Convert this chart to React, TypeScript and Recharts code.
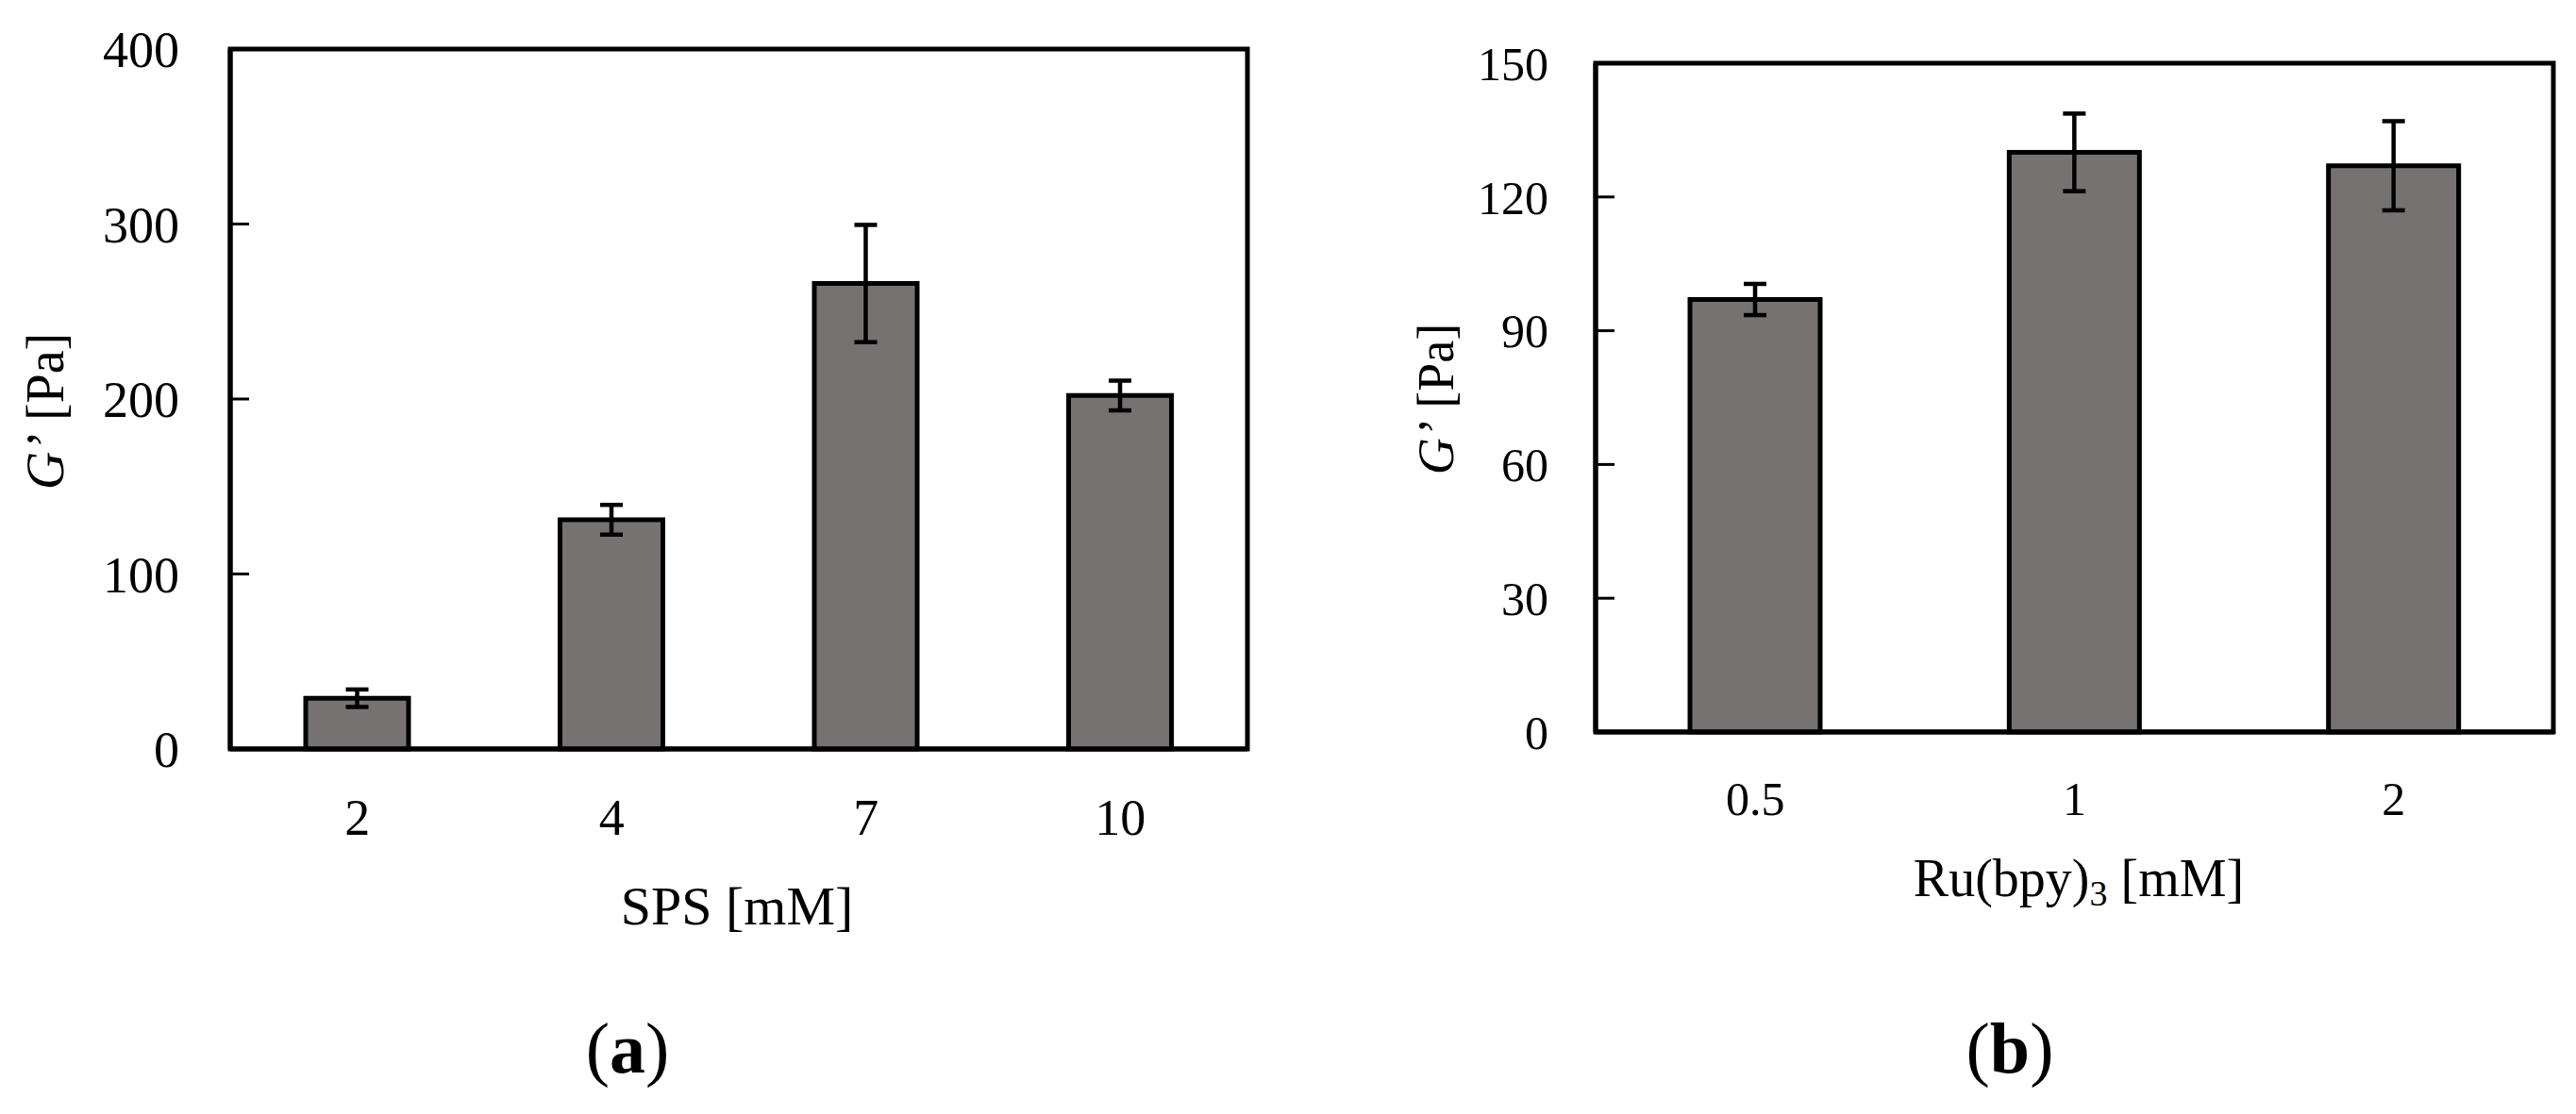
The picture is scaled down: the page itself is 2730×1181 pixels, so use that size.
import { BarChart, Bar, XAxis, YAxis, ErrorBar, ReferenceArea } from 'recharts'

// Panel (a): storage modulus vs SPS concentration
const SPS_LEVELS = ['2', '4', '7', '10']
const SPS_MODULUS = [29, 131, 266, 202]
const SPS_ERROR = [5, 8.5, 33.5, 8.5]
const SPS_TICKS = [0, 100, 200, 300, 400]

// Panel (b): storage modulus vs Ru(bpy)3 concentration
const RU_LEVELS = ['0.5', '1', '2']
const RU_MODULUS = [97, 130, 127]
const RU_ERROR = [3.5, 8.7, 10]
const RU_TICKS = [0, 30, 60, 90, 120, 150]

const FONT = '"Liberation Serif", "Times New Roman", serif'
const BAR_FILL = '#777272'
const INK = '#000000'
const LINE = 5
const INNER_TICK = 20

type PanelProps = {
  levels: string[]
  values: number[]
  errors: number[]
  ticks: number[]
  left: number
  top: number
  right: number
  axisWidth: number
  axisHeight: number
  barSize: number
  tickFont: number
  tickGapY: number
  tickGapX: number
  labelFont: number
  xLabel: React.ReactNode
  xLabelX: number
  xLabelY: number
  yLabelX: number
  yLabelY: number
  yLabelFont: number
}

function Panel(p: PanelProps) {
  const data = p.levels.map((level, i) => ({ level, value: p.values[i], err: p.errors[i] }))
  const domain: [number, number] = [p.ticks[0], p.ticks[p.ticks.length - 1]]
  const axisLine = { stroke: INK, strokeWidth: LINE }

  // value label plus a short tick pointing into the plot (Excel "inside" ticks)
  const renderYTick = (t: any) => {
    const axisX = Number(t.x) + p.tickGapY
    const y = Number(t.y)
    return (
      <g>
        <line x1={axisX} x2={axisX + INNER_TICK} y1={y} y2={y} stroke={INK} strokeWidth={3} />
        <text x={t.x} y={y} dy="0.355em" textAnchor="end" fontFamily={FONT} fontSize={p.tickFont} fill={INK}>
          {t.payload.value}
        </text>
      </g>
    )
  }

  return (
    <div style={{ position: 'absolute', left: p.left, top: 0 }}>
      <BarChart
        width={1365}
        height={1181}
        data={data}
        margin={{ top: p.top, right: p.right, bottom: 0, left: 0 }}
      >
        <XAxis
          dataKey="level"
          height={p.axisHeight}
          axisLine={axisLine}
          tickLine={false}
          tickSize={0}
          tickMargin={p.tickGapX}
          tick={{ fontFamily: FONT, fontSize: p.tickFont, fill: INK }}
          label={() => (
            <text x={p.xLabelX} y={p.xLabelY} textAnchor="middle" fontFamily={FONT} fontSize={p.labelFont} fill={INK}>
              {p.xLabel}
            </text>
          )}
        />
        <YAxis
          width={p.axisWidth}
          domain={domain}
          ticks={p.ticks}
          interval={0}
          axisLine={axisLine}
          tickLine={false}
          tickSize={0}
          tickMargin={p.tickGapY}
          tick={renderYTick}
          label={() => (
            <text
              x={p.yLabelX}
              y={p.yLabelY}
              transform={`rotate(-90 ${p.yLabelX} ${p.yLabelY})`}
              textAnchor="middle"
              fontFamily={FONT}
              fontSize={p.yLabelFont}
              fill={INK}
            >
              <tspan fontStyle="italic">G’</tspan>
              <tspan> [Pa]</tspan>
            </text>
          )}
        />
        {/* plot-area frame */}
        <ReferenceArea y1={domain[0]} y2={domain[1]} ifOverflow="visible" fill="none" fillOpacity={0} stroke={INK} strokeWidth={LINE} />
        <Bar dataKey="value" fill={BAR_FILL} stroke={INK} strokeWidth={5} barSize={p.barSize} isAnimationActive={false}>
          <ErrorBar dataKey="err" width={12} stroke={INK} strokeWidth={4.5} />
        </Bar>
      </BarChart>
    </div>
  )
}

export default function App() {
  return (
    <div style={{ position: 'absolute', left: 0, top: 0, width: 2730, height: 1181, background: '#fff', overflow: 'hidden' }}>
      <Panel
        levels={SPS_LEVELS}
        values={SPS_MODULUS}
        errors={SPS_ERROR}
        ticks={SPS_TICKS}
        left={0}
        top={52}
        right={43}
        axisWidth={244}
        axisHeight={387}
        barSize={109}
        tickFont={54}
        tickGapY={54}
        tickGapX={53}
        labelFont={58}
        xLabel="SPS [mM]"
        xLabelX={781}
        xLabelY={980}
        yLabelX={67}
        yLabelY={436}
        yLabelFont={56}
      />
      <Panel
        levels={RU_LEVELS}
        values={RU_MODULUS}
        errors={RU_ERROR}
        ticks={RU_TICKS}
        left={1365}
        top={67}
        right={24}
        axisWidth={326}
        axisHeight={405}
        barSize={138}
        tickFont={50}
        tickGapY={50}
        tickGapX={52}
        labelFont={56}
        xLabel={
          <>
            <tspan>Ru(bpy)</tspan>
            <tspan dy={10} fontSize={38}>3</tspan>
            <tspan dy={-10}> [mM]</tspan>
          </>
        }
        xLabelX={838}
        xLabelY={950}
        yLabelX={175}
        yLabelY={423}
        yLabelFont={54}
      />
      <svg width={2730} height={1181} style={{ position: 'absolute', left: 0, top: 0, pointerEvents: 'none' }}>
        <text x={665} y={1137} textAnchor="middle" fontFamily={FONT} fontSize={76} fill={INK}>
          (<tspan fontWeight="bold">a</tspan>)
        </text>
        <text x={2130} y={1137} textAnchor="middle" fontFamily={FONT} fontSize={76} fill={INK}>
          (<tspan fontWeight="bold">b</tspan>)
        </text>
      </svg>
    </div>
  )
}
